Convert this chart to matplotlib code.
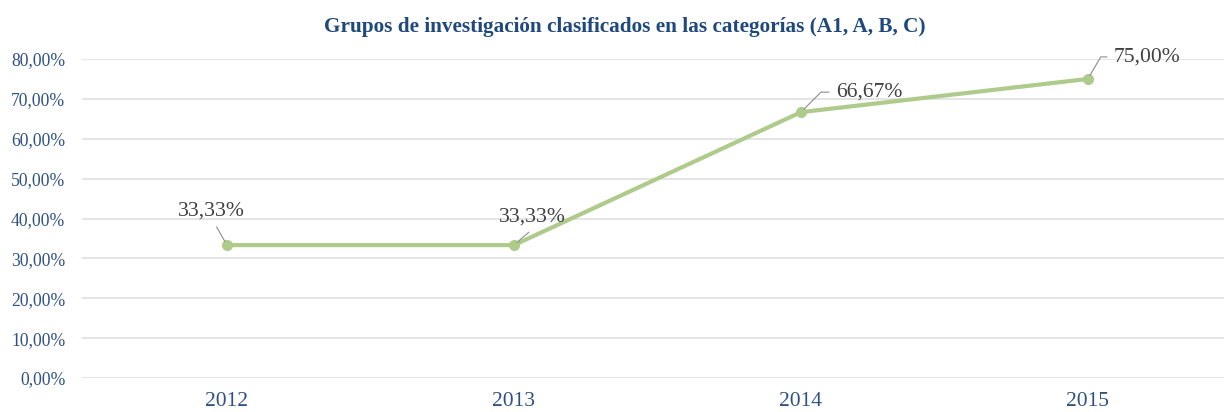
import matplotlib
matplotlib.use("Agg")
import matplotlib.pyplot as plt
from matplotlib.ticker import FuncFormatter

years = ["2012", "2013", "2014", "2015"]
values = [33.33, 33.33, 66.67, 75.00]
labels = ["33,33%", "33,33%", "66,67%", "75,00%"]
title = "Grupos de investigación clasificados en las categorías (A1, A, B, C)"

plt.rcParams['font.family'] = ['Liberation Serif', 'DejaVu Serif']

W, H = 1224, 412
fig = plt.figure(figsize=(W / 100, H / 100), dpi=100)
ax = fig.add_axes([82 / W, (H - 378) / H, (W - 82) / W, (378 - 59) / H])

x = list(range(len(years)))
line_color = "#AFCB8C"
ax.plot(x, values, color=line_color, lw=3, marker="o", ms=7, mfc=line_color, mec=line_color,
        solid_capstyle="round", zorder=3)

ax.set_ylim(0, 80)
ax.set_xlim(-0.505, 3.474)
ax.set_yticks(range(0, 81, 10))
ax.yaxis.set_major_formatter(FuncFormatter(lambda v, p: f"{v:.2f}".replace(".", ",") + "%"))
ax.set_xticks(x)
ax.set_xticklabels(years)
ax.grid(axis="y", color="#DCDCDC", lw=1.1)
ax.set_axisbelow(True)
for s in ax.spines.values():
    s.set_visible(False)
tick_color = "#2F5182"
ax.tick_params(axis="y", length=0, pad=12, labelsize=12.7, labelcolor=tick_color)
ax.tick_params(axis="x", length=0, pad=10, labelsize=15.5, labelcolor=tick_color)

lbl_color = "#404040"
# (dx, dy, ha, va, relpos, connectionstyle)
specs = [
    (-16, 34, "center", "center", (0.53, 0.0), "arc3"),
    (18, 28, "center", "center", (0.55, 0.0), "arc3"),
    (35, 20, "left", "center", (0.0, 0.5), "angle,angleA=0,angleB=45,rad=0"),
    (26, 22, "left", "center", (0.0, 0.5), "angle,angleA=0,angleB=60,rad=0"),
]
for xi, v, lab, (dx, dy, ha, va, rp, cs) in zip(x, values, labels, specs):
    ax.annotate(lab, xy=(xi, v), xytext=(dx, dy), textcoords="offset pixels",
                ha=ha, va=va, fontsize=15.6, color=lbl_color, zorder=4,
                arrowprops=dict(arrowstyle="-", color="#8C8C8C", lw=0.8, relpos=rp,
                                connectionstyle=cs, shrinkA=3, shrinkB=3))

fig.text(625 / W, (H - 27) / H, title, ha="center", va="center", fontsize=15.3,
         fontweight="bold", color="#1F497D")

fig.savefig("out.png", dpi=100, facecolor="white")
